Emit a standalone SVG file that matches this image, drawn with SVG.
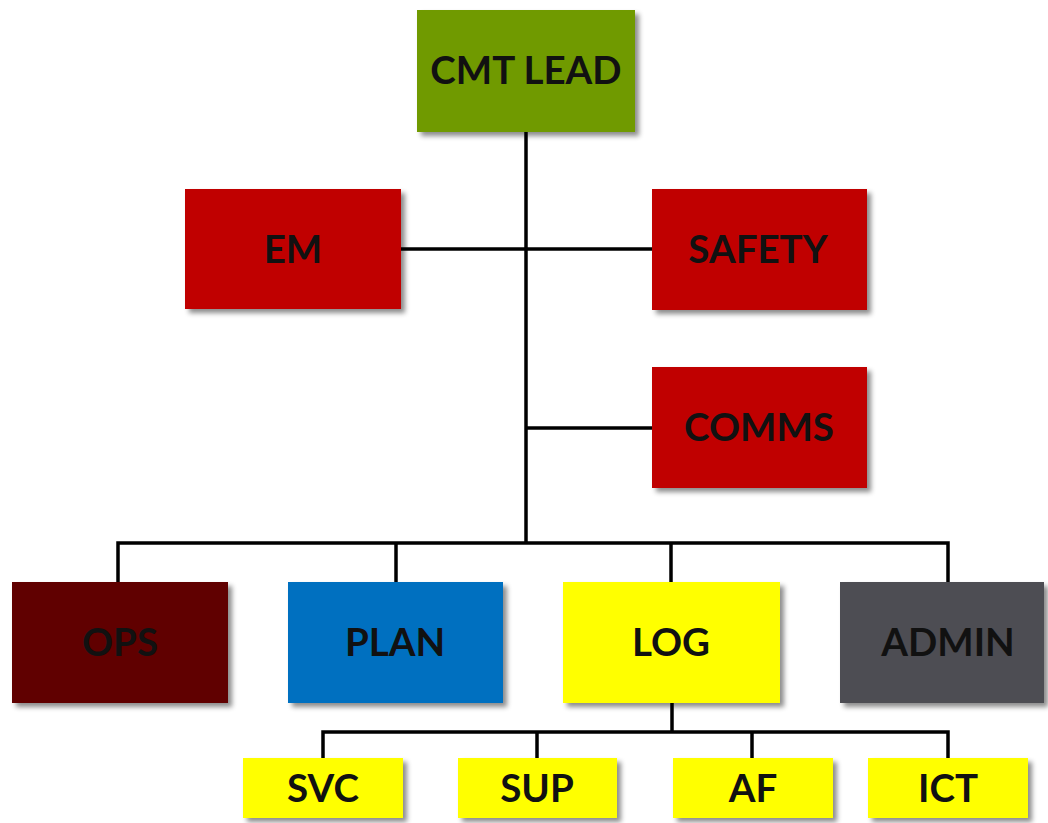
<svg xmlns="http://www.w3.org/2000/svg" width="1048" height="823" viewBox="0 0 1048 823">
<defs>
<filter id="sh" x="-10%" y="-10%" width="130%" height="130%">
<feDropShadow dx="4" dy="4" stdDeviation="2.5" flood-color="#000" flood-opacity="0.45"/>
</filter>
<style>
.box{filter:url(#sh);}
.t{font-family:Lato,"Open Sans","Liberation Sans",sans-serif;font-weight:bold;font-size:38.5px;fill:#111;text-anchor:middle;}
.c{fill:none;stroke:#000;stroke-width:3.5;}
</style>
</defs>
<rect width="1048" height="823" fill="#fff"/>
<g id="connectors">
<path class="c" d="M526 132 V543"/>
<path class="c" d="M401 249 H652"/>
<path class="c" d="M526 428 H652"/>
<path class="c" d="M118 582 V543 H948 V582"/>
<path class="c" d="M396 543 V582"/>
<path class="c" d="M671 543 V582"/>
<path class="c" d="M672 703 V732"/>
<path class="c" d="M323 758 V732 H948 V758"/>
<path class="c" d="M537 732 V758"/>
<path class="c" d="M752 732 V758"/>
</g>
<g id="cmt-lead"><rect class="box" x="417" y="10" width="218" height="122" fill="#6f9a04"/><text class="t" x="526" y="84">CMT LEAD</text></g>
<g id="em"><rect class="box" x="185" y="189" width="216" height="120" fill="#c00000"/><text class="t" x="293" y="263">EM</text></g>
<g id="safety"><rect class="box" x="652" y="189" width="215" height="121" fill="#c00000"/><text class="t" x="758" y="263">SAFETY</text></g>
<g id="comms"><rect class="box" x="652" y="367" width="215" height="121" fill="#c00000"/><text class="t" x="759" y="441">COMMS</text></g>
<g id="ops"><rect class="box" x="12" y="582" width="216" height="121" fill="#600000"/><text class="t" x="120" y="656">OPS</text></g>
<g id="plan"><rect class="box" x="288" y="582" width="215" height="121" fill="#0070c0"/><text class="t" x="395" y="656">PLAN</text></g>
<g id="log"><rect class="box" x="563" y="582" width="217" height="121" fill="#ffff00"/><text class="t" x="671" y="656">LOG</text></g>
<g id="admin"><rect class="box" x="840" y="582" width="204" height="121" fill="#4d4d52"/><text class="t" x="948" y="656">ADMIN</text></g>
<g id="svc"><rect class="box" x="243" y="758" width="160" height="60" fill="#ffff00"/><text class="t" x="323" y="802">SVC</text></g>
<g id="sup"><rect class="box" x="458" y="758" width="159" height="60" fill="#ffff00"/><text class="t" x="537" y="802">SUP</text></g>
<g id="af"><rect class="box" x="673" y="758" width="160" height="60" fill="#ffff00"/><text class="t" x="753" y="802">AF</text></g>
<g id="ict"><rect class="box" x="868" y="758" width="160" height="60" fill="#ffff00"/><text class="t" x="948" y="802">ICT</text></g>
</svg>
